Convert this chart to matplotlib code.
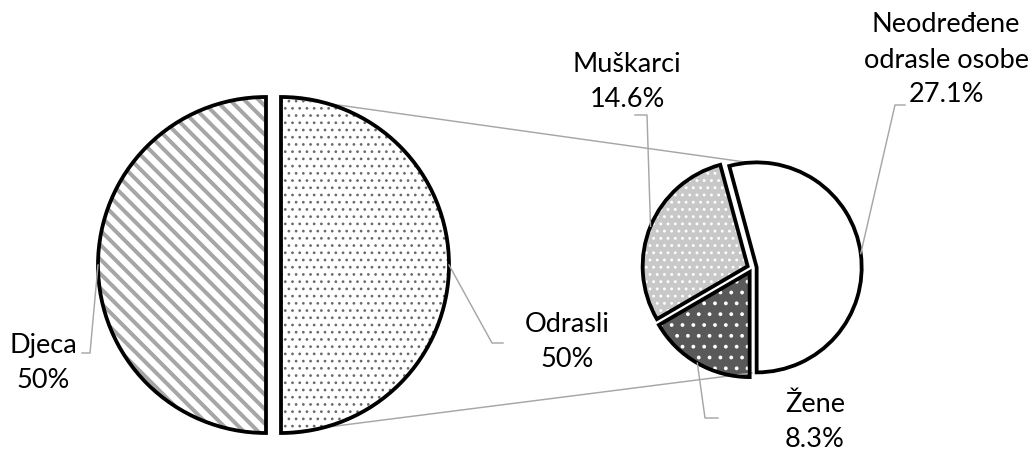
import matplotlib
matplotlib.use("Agg")
import matplotlib.pyplot as plt
from matplotlib.patches import Wedge
import numpy as np

# data
glavne_kat = ["Djeca", "Odrasli"]
glavne_vr = [50, 50]
pod_kat = ["Neodređene\nodrasle osobe", "Muškarci", "Žene"]
pod_vr = [27.1, 14.6, 8.3]

W, H, DPI = 1033, 452, 130
plt.rcParams["font.family"] = ["Lato", "DejaVu Sans"]
plt.rcParams["hatch.linewidth"] = 1.0

fig = plt.figure(figsize=(W / DPI, H / DPI), dpi=DPI)
ax = fig.add_axes([0, 0, 1, 1])

siva = "#a6a6a6"

# glavni pie (explode u pikselima, pie ga ne skalira s radijusom)
c1, r1 = (273.5, H - 265), 168
w1, _ = ax.pie(glavne_vr, center=c1, radius=r1, startangle=90,
               explode=[7.5, 7.5], colors=["white", "white"],
               wedgeprops=dict(linewidth=0), frame=True)
# drugi pie
c2, r2 = (752, H - 268), 105
w2, _ = ax.pie(pod_vr, center=c2, radius=r2, startangle=-90,
               explode=[4.7] * 3, colors=["white", "#c8c8c8", "#595959"],
               wedgeprops=dict(linewidth=0), frame=True)

uzorci = [("\\\\\\", siva, 2.2), ("...", "#6a6a6a", 0.7),
          ("", "white", 0.9), ("...", "white", 0.8), ("..", "white", 0.9)]
svi = list(w1) + list(w2)
for w, (h, hc, hlw) in zip(svi, uzorci):
    w.set_hatch(h)
    w.set_edgecolor(hc)
    if hasattr(w, "set_hatch_linewidth"):
        w.set_hatch_linewidth(hlw)
    ax.add_patch(Wedge(w.center, w.r, w.theta1, w.theta2, fill=False,
                       edgecolor="black", linewidth=2.1, joinstyle="miter", zorder=3))

# spojne linije
odr = w1[1]
ax.plot([odr.center[0], c2[0]], [odr.center[1] + r1, c2[1] + r2], color=siva, lw=0.8, zorder=1)
ax.plot([odr.center[0], c2[0]], [odr.center[1] - r1, c2[1] - r2], color=siva, lw=0.8, zorder=1)

# oznake: (tekst centar, lakat, kraj)
oznake = [
    ((43.5, H - 363), (90, H - 353), (82, H - 353)),
    ((567, H - 342), (492, H - 343), (503, H - 343)),
    ((946, H - 60), (895, H - 105), (905, H - 105)),
    ((627, H - 82), (647, H - 115), (635, H - 115)),
    ((815, H - 422), (705, H - 418), (718, H - 418)),
]
tekstovi = [f"{k}\n{v:g}%" for k, v in zip(glavne_kat, glavne_vr)] + \
           [f"{k}\n{v:.1f}%" for k, v in zip(pod_kat, pod_vr)]

for w, t, (tc, lakat, kraj) in zip(svi, tekstovi, oznake):
    m = np.deg2rad((w.theta1 + w.theta2) / 2)
    p = (w.center[0] + w.r * np.cos(m), w.center[1] + w.r * np.sin(m))
    ax.plot([p[0], lakat[0], kraj[0]], [p[1], lakat[1], kraj[1]], color=siva, lw=0.8, zorder=4)
    ax.text(tc[0], tc[1], t, ha="center", va="center", fontsize=15,
            linespacing=1.5, color="black", zorder=5)

ax.set_xlim(0, W)
ax.set_ylim(0, H)
ax.set_aspect("equal")
ax.axis("off")
fig.savefig("out.png", dpi=DPI, facecolor="white")
